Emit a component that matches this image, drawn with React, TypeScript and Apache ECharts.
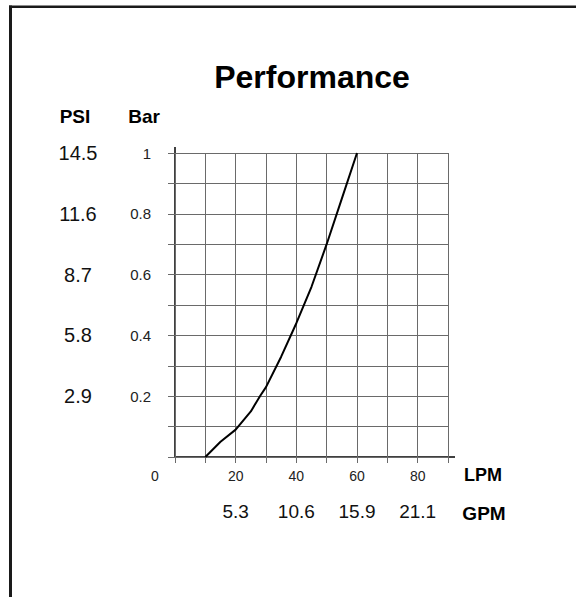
import React, { useEffect, useRef } from "react";
import * as echarts from "echarts";

const flowLpm = [10, 15, 20, 25, 28, 30, 35, 40, 45, 50, 55, 60];
const pressureBar = [0, 0.05, 0.09, 0.15, 0.2, 0.23, 0.33, 0.44, 0.56, 0.7, 0.85, 1.0];
const barTicks = [0.2, 0.4, 0.6, 0.8, 1];
const barTickLabels = ["0.2", "0.4", "0.6", "0.8", "1"];
const psiTickLabels = ["2.9", "5.8", "8.7", "11.6", "14.5"];
const lpmTicks = [20, 40, 60, 80];
const lpmTickLabels = ["20", "40", "60", "80"];
const gpmTickLabels = ["5.3", "10.6", "15.9", "21.1"];

const FONT = "'Liberation Sans', Arial, sans-serif";

function idx(arr: number[], v: number) {
  return arr.findIndex((a) => Math.abs(a - v) < 1e-6);
}

export default function App() {
  const ref = useRef<HTMLDivElement>(null);
  useEffect(() => {
    if (!ref.current) return;
    const chart = echarts.init(ref.current, undefined, { renderer: "svg" });
    const gridLeft = 175;
    const gridTop = 153;
    const gridW = 273;
    const gridH = 304;
    const gridColor = "#6a6a6a";
    chart.setOption({
      animation: false,
      backgroundColor: "#ffffff",
      grid: { left: gridLeft, top: gridTop, width: gridW, height: gridH },
      xAxis: [
        {
          type: "value",
          min: 0,
          max: 90,
          interval: 10,
          position: "bottom",
          axisLine: { show: false },
          axisTick: { show: true, length: 6, lineStyle: { color: gridColor, width: 1 } },
          splitLine: { show: true, lineStyle: { color: gridColor, width: 1 } },
          axisLabel: {
            margin: 12,
            fontFamily: FONT,
            fontSize: 14,
            color: "#222",
            formatter: (v: number) => {
              const i = idx(lpmTicks, v);
              return i >= 0 ? lpmTickLabels[i] : "";
            },
          },
        },
        {
          type: "value",
          min: 0,
          max: 90,
          interval: 10,
          position: "bottom",
          axisLine: { show: false },
          axisTick: { show: false },
          splitLine: { show: false },
          axisLabel: {
            margin: 45,
            fontFamily: FONT,
            fontSize: 19,
            color: "#111",
            formatter: (v: number) => {
              const i = idx(lpmTicks, v);
              return i >= 0 ? gpmTickLabels[i] : "";
            },
          },
        },
      ],
      yAxis: [
        {
          type: "value",
          min: 0,
          max: 1,
          interval: 0.1,
          position: "left",
          axisLine: { show: false },
          axisTick: { show: true, length: 7, lineStyle: { color: gridColor, width: 1 } },
          splitLine: { show: true, lineStyle: { color: gridColor, width: 1 } },
          axisLabel: {
            margin: 24,
            fontFamily: FONT,
            fontSize: 15,
            color: "#222",
            formatter: (v: number) => {
              const i = idx(barTicks, v);
              return i >= 0 ? barTickLabels[i] : "";
            },
          },
        },
        {
          type: "value",
          min: 0,
          max: 1,
          interval: 0.1,
          position: "left",
          offset: 97,
          axisLine: { show: false },
          axisTick: { show: false },
          splitLine: { show: false },
          axisLabel: {
            margin: 0,
            align: "center",
            fontFamily: FONT,
            fontSize: 20,
            color: "#111",
            formatter: (v: number) => {
              const i = idx(barTicks, v);
              return i >= 0 ? psiTickLabels[i] : "";
            },
          },
        },
      ],
      series: [
        {
          type: "line",
          xAxisIndex: 0,
          yAxisIndex: 0,
          data: flowLpm.map((x, i) => [x, pressureBar[i]]),
          showSymbol: false,
          symbol: "none",
          lineStyle: { color: "#000", width: 2 },
          smooth: false,
        },
      ],
      graphic: [
        // frame
        { type: "line", shape: { x1: 9, y1: 6.7, x2: 576, y2: 6.7 }, style: { stroke: "#1a1a1a", lineWidth: 2.5 } },
        { type: "line", shape: { x1: 10.5, y1: 5.5, x2: 10.5, y2: 597 }, style: { stroke: "#1a1a1a", lineWidth: 3 } },
        // axis lines
        { type: "line", shape: { x1: gridLeft, y1: gridTop - 6, x2: gridLeft, y2: gridTop + gridH }, style: { stroke: "#000", lineWidth: 1.5 } },
        { type: "line", shape: { x1: gridLeft, y1: gridTop + gridH, x2: gridLeft + gridW + 7, y2: gridTop + gridH }, style: { stroke: "#000", lineWidth: 1.5 } },
        // texts
        {
          type: "text",
          x: 312,
          y: 77,
          style: { text: "Performance", font: `bold 32px ${FONT}`, fill: "#000", textAlign: "center", textVerticalAlign: "middle" },
        },
        {
          type: "text",
          x: 75,
          y: 116,
          style: { text: "PSI", font: `bold 19px ${FONT}`, fill: "#000", textAlign: "center", textVerticalAlign: "middle" },
        },
        {
          type: "text",
          x: 144,
          y: 116,
          style: { text: "Bar", font: `bold 19px ${FONT}`, fill: "#000", textAlign: "center", textVerticalAlign: "middle" },
        },
        {
          type: "text",
          x: 155,
          y: 476,
          style: { text: "0", font: `14px ${FONT}`, fill: "#222", textAlign: "center", textVerticalAlign: "middle" },
        },
        {
          type: "text",
          x: 483,
          y: 475,
          style: { text: "LPM", font: `bold 18px ${FONT}`, fill: "#000", textAlign: "center", textVerticalAlign: "middle" },
        },
        {
          type: "text",
          x: 484,
          y: 513,
          style: { text: "GPM", font: `bold 19px ${FONT}`, fill: "#000", textAlign: "center", textVerticalAlign: "middle" },
        },
      ],
    });
    return () => chart.dispose();
  }, []);
  return (
    <div
      ref={ref}
      style={{ position: "absolute", left: 0, top: 0, width: 576, height: 597 }}
    />
  );
}
